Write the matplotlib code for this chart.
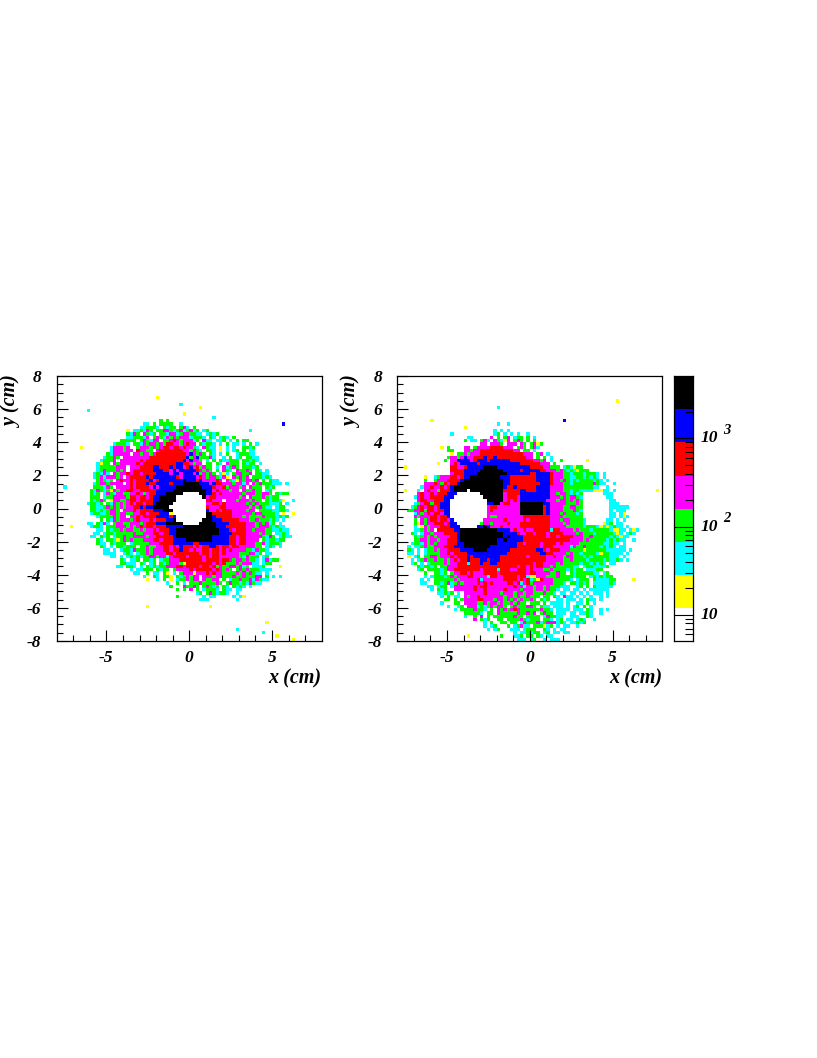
import numpy as np
import matplotlib
matplotlib.use('Agg')
import matplotlib.pyplot as plt
from matplotlib.colors import ListedColormap, BoundaryNorm
from matplotlib.ticker import FixedLocator, NullFormatter

plt.rcParams['font.family'] = ['Liberation Serif', 'DejaVu Serif']
plt.rcParams['axes.unicode_minus'] = False

# contour levels of the colour scale (counts per bin)
niveles = [5.1, 12, 28, 67, 160, 380, 900, 2130, 5100]
colores = ['#ffffff', '#ffff00', '#00ffff', '#00ff00', '#ff00ff', '#ff0000', '#0000ff', '#000000']
# a typical count for each letter used in the rows below
conteos = {'y': 18, 'c': 44, 'g': 100, 'm': 250, 'r': 600, 'b': 1400, 'k': 3300}

xticks = [-5, 0, 5]
yticks = [-8, -6, -4, -2, 0, 2, 4, 6, 8]

# (row from top, first column, cells)
izq_sueltos = [(6, 30, 'y'), (8, 37, 'c'), (9, 43, 'y'), (11, 38, 'y'), (10, 9, 'c'), (12, 47, 'c'), (14, 68, 'b'),
               (21, 7, 'y'), (33, 2, 'c'), (45, 4, 'y'), (41, 71, 'y'), (37, 71, 'c'), (57, 67, 'y'), (69, 27, 'y'),
               (69, 46, 'y'), (66, 56, 'y'), (67, 54, 'c'), (74, 63, 'y'), (76, 54, 'c'), (77, 62, 'c'), (78, 66, 'y'),
               (79, 71, 'y'), (16, 58, 'c')]
izq_filas = [
    (13, 31, 'g.g'),
    (14, 26, 'cc.g.gggg..c'),
    (15, 25, 'ccgggc.gcgg.gmc.g'),
    (16, 21, 'y.ccgcmg.ggmmgcgmcgmcg.cg'),
    (17, 21, 'gcmg.mgcg.ggcmmcgmmggcc.cgcg'),
    (18, 21, 'ccgggcm.gmgcmgmgmmmcgggc.gc.cgc.g'),
    (19, 19, 'ggggg.gmgcmm.ggmrmgmmmcg.mcc.ccg.c.g.gg'),
    (20, 17, 'cgggc.ggcmgmmgmgrrmmgmrmm.gcggc.c.g.cc.c.g.c'),
    (21, 16, 'cmmmgm..gmmmgmgmrrmrrmrmmgc.mgcc.y.c.c..ggcg'),
    (22, 16, 'cmmmgmm.rmmgg.mrrrrrrrmmgmgc.ggc.y.c.cg.g.cc'),
    (23, 15, 'gcmmmmm.mmgmmgmrrrrrrrrrmbmgmg.gc.c.g..cgggcc'),
    (24, 14, 'cggmg.mmmmmmmmrrrrrrrrrrrbgmbgggmc..c.g.cg.ggcc'),
    (25, 13, 'cgggm.mmmmmmrmrrrrrrrrrrrbmbmmg.c.g.gccggg.ggcgc'),
    (26, 12, 'cygg.mgmmmmmrmrrrrrrrrrrbbrrmgmm.gg.gc.mggg.gcgg.c'),
    (27, 12, 'cgggggmmm.mmmrrrrbbrrrbrbbmrbmrgmgg.c.mcgmg.gggcg'),
    (28, 12, 'cgmgggmgm.mrrrrrrbbbrrmbmbbbbbrmgmg.g.mgc.mggmg.gc.c'),
    (29, 11, 'cgcmc.mgmmrmrrmrrrrbbbbmbbmbbbmbgmgmg.cyc.gmmggm.ggcc'),
    (30, 11, 'cgmcmmmgm.mrrrrrbrbbbbbbbrmbbbbmrmgmmgcmy.mgmgm.gggcgc'),
    (31, 12, 'gmgcg.mrmmrmrrrrbmrbbbbbbbkbbbrbmmmmrm.mgcymgmmgm.g.gcc'),
    (32, 11, 'cgmmgmmmm.mrmrrrbrrbbbbrbbbkkkkkbbbmbrrmmmgmmcm.mgmgggccc.c'),
    (33, 11, 'gggcmg.mmmmrmrrrrmbmbbbbbkkkkkkkkbbbrmmrgmmmgm.mggg.gcg'),
    (34, 10, 'gcmgcgymgmmrrmmrrrrrbbbbbkkkkkkkkkkbbmrmmmgmm.mggmgg.cg'),
    (35, 10, 'gcg.cmgcmmggmmrmgmrrbbbkkkkk'),
    (35, 43, 'kkbbrmrmmmmmmgmmmggmmg.gcgg'),
    (36, 10, 'ggg.cggmmmmgrrmrrmrbbkkkkk'),
    (36, 44, 'kmrrmmmmmmmgm.mgggmgcgg'),
    (37, 10, 'gcgmg.ymmggmrrmrrrrbbkkkkk'),
    (37, 45, 'rrmmm.mmmgmmmgmgg.gcggcy'),
    (38, 9, 'cggcg.gcmgmgmrmrrmrrbkkkkk'),
    (38, 45, 'mmrrmrmmmmmmgmgmgggcccg.c'),
    (39, 10, 'ggccgmgmgmgmmrrbrbbkkkkk'),
    (39, 45, 'rmmmrrmmmmmmmgmgmgcc.cgg'),
    (40, 10, 'ggcgcgmmg.mmmrmrrrrbbbkkk'),
    (40, 45, 'bmmrmrrrmmmmgmm.ggggccggc'),
    (41, 10, 'cggccgmmgmmggmmrrmrrrbbby'),
    (41, 45, 'kkrrrrrrmmmmmmgmmggggc.y'),
    (42, 12, 'cggggmgmm.mmrmrrrrbbbbrb'),
    (42, 45, 'kkbrrrrrmmmgmggggmgggcgcg'),
    (43, 13, 'g.gcmgmmmgmrmmmrmrrrbbk'),
    (43, 44, 'kkkbbbrrrrrmmmggmgggcgc.c'),
    (44, 9, 'cc.gcmc.gmmggmmmgmrrrbbbkkkkk'),
    (44, 43, 'kkkkkbbbbrrrrrmmmgmgmcg.c'),
    (45, 10, 'cggc.gggmmmgmgmrmrrmrrrbbbbbkkkkkkkkkkbbbrrrrrrmmmgmmmgcgcc'),
    (46, 12, 'cc.gcggmgmmggmgmmrmrrrbbkkkkkkkkkkkkkbbbrmrrrmmgmmmggccgcc'),
    (47, 11, 'cc.cggcgggggmggmmmrrmrrbbkkkkkkkkkkkkkbbbbrrrrmmmmgmgg.ccgc'),
    (48, 10, 'cc.gcg.cggmggmmmmgmmrrrrrbkkkkkkkkkkkbbbbbrrmrrmmmmmgcmg.cgcc'),
    (49, 12, 'gc.ggcygmgmgggmmmrrmrrrbbbbkkkkkkkkbbbbbrrmrrmmmm.gcggcgg'),
    (50, 12, 'gcc.gcggg.cgggggmmmrrrrbbbbbbrrbbbbbbbbbrrmrrmmmggmcgggc'),
    (51, 13, 'gc.c.ggcggg.ggmggmmrrmrmbrrrmrmrrbbrmrrmrrmmmmmgg.cgc.c'),
    (52, 14, 'cc.c.cggcmgggmgmmmrrmrrbrrmrmmrrmrrmrmrmmmmggcmggc'),
    (53, 14, 'cccc..cgc.cggmgmmmmrrmrrrrrrrmrrmrrmrmmmmgggmmcg.cc'),
    (54, 16, 'cc.c.cgcgcggmmgmmcmrrrrmrrrrmrmrrmmmmmmgcmggg.cg'),
    (55, 19, 'gc.ccg.ggcg.cggmmmrrrrrrrmrrrrmrrmgmmgmggc.cmcgg'),
    (56, 19, 'ggccc.gc.cg.gcgmmmgyrrrrrrrrmrmrgggmgmmmcc.cgg'),
    (57, 18, 'cc.ggc.c.gcgcggmmmrrmrrrrmrrmrgmggmmgmcg.cccg'),
    (58, 22, 'c.ccggg.gcgg.gmmmmrmrrrrrmrmgmg.gmgmgggcccc'),
    (59, 23, 'cc..g.cc.gy.c.gmmmymmmrmrmmggggmgmgmgcc.c'),
    (60, 26, 'c..gc.ggy.gcgmgmm.mmmgmmgggmggmgggmm.g.c.c'),
    (61, 27, 'y..c.g.y.cggmgmm.mggmm.g.cggmggmcmgcc'),
    (62, 33, 'c..g.c.gggmggggmg.gmggcgcmgcc'),
    (63, 34, 'g...mggmg.gmgcg.gc.gcgc.c'),
    (64, 36, 'g.g.m.g.cgggc.gcc.cc'),
    (65, 42, 'cg.gmgcggc..c'),
    (66, 36, 'g.......c.cc.....c.c'),
    (67, 43, 'ccc'),
]

# same for the right picture
der_sueltos = [(9, 30, 'c'), (13, 10, 'y'), (13, 50, 'b'), (7, 66, 'y'), (14, 30, 'c'), (14, 33, 'c'), (15, 20, 'y'),
               (17, 16, 'c'), (21, 13, 'y'), (27, 2, 'y'), (26, 12, 'y'), (25, 57, 'y'), (34, 2, 'y'), (34, 78, 'y'),
               (61, 71, 'y'), (78, 21, 'y'), (23, 16, 'y')]
der_filas = [
    (16, 29, 'c.c.c'),
    (17, 29, 'cg.c.c.c..c'),
    (18, 21, 'cc.....m.g.gm.cgg.g.c'),
    (19, 20, 'g.cc.gmc.mgcym.gmg.g.g'),
    (20, 25, 'mm.mmmg.mmm.mg.gmyg'),
    (21, 15, 'g....mm.gmmmmrrrrmmm.gmg.gmc'),
    (22, 15, 'gg...mmgmmrrrrrrrrrrmm.gg.c'),
    (23, 16, 'g.ggmgmmmrrrrrrrrrrrrrmmm.gm.c'),
    (24, 15, 'gmmgmbmmrrrbrrbrrrrrrrrrmm.g.g.c'),
    (25, 14, 'g.mmbbbbmrbbbrbbbbbbrrrrrrrmmgm.c..g'),
    (26, 16, 'mrmbbbbbrbbbbbbbbbbbbrrrrrrmmm.g'),
    (27, 16, 'rrmmrbbbbbkkkkbbbbbbbbbbrrrrmmggg.cgcygg'),
    (28, 16, 'rrrrbbbbbkkkkkkkbbbbbrbbbbbrrmmmgmgcgcyggg'),
    (29, 16, 'mrrrbbbbkkkkkkkkkbbbbbbbrrbbbbrmmmggcgggcgggc.c'),
    (30, 8, 'y..cgmmmrrmrbbkkkkkkkkkbbbrrrrrrrrbbbbrmmmggccggcgcgc.c'),
    (31, 8, 'g..gmmmrrrrbkkkkkkkkkkkkbbrrrrrrrrbbbbrmmgmgcgcggggcgc.c'),
    (32, 8, 'mmmrmgrmrrbkkkkkkkkkkkkkbbrrrrrrrrrbbbrmmmggcggggggmgcc..c'),
    (33, 7, 'cmmrmmrmrbkkkkkkkkkkkkkkkbrrbrrrrrrbbbbmmmmgggggggggcc..c'),
    (34, 6, 'c.mrmmgrrrbkkkk.kkkkkkkkkkrrrrrbbrrrbbbbmmmmggcggccccyyycc.c'),
    (35, 6, 'mrmmrmrrrbbb'),
    (35, 25, 'kkkkkkkmrrrrbbbbbbbbbmmgmmgcgcg'),
    (35, 62, 'ccc'),
    (36, 5, 'cmrmmrrrrbbb'),
    (36, 26, 'kkkkkkmrrrmbbbbbbbbbmmmgmgmmgc'),
    (36, 63, 'cc'),
    (37, 6, 'mrrmmrrrbb'),
    (37, 27, 'kkkkkmrmrmbbbbbbbbmmmgmmgmgmg'),
    (37, 64, 'cc.'),
    (38, 5, 'cgmrrgrrbbb'),
    (38, 27, 'bbkkmrrmmmkkkkkkkbbmmmmmgggmg'),
    (38, 64, 'ccc'),
    (39, 4, 'cgmrmrrmrbbb'),
    (39, 27, 'mrrmmmmmmmkkkkkkkrbmmmmggmmgg'),
    (39, 64, 'cccccc'),
    (40, 3, 'ggmmrgrrmrrbb'),
    (40, 27, 'mrmmmmmmmmkkkkkkkrbmmmmgggmgc'),
    (40, 64, 'c.ccc'),
    (41, 5, 'cmgmrmrrmbb'),
    (41, 27, 'mmmmmmmmmmkkkkkkkrbmmmgmgggcg'),
    (41, 64, 'cc.cy'),
    (42, 5, 'mgmmmrrmrrb'),
    (42, 27, 'mggmmmmmmmmrrrrrrrrmmmmgggggg'),
    (42, 64, 'cc.cyc'),
    (43, 5, 'g.mgmrrmrrmb'),
    (43, 26, 'mmmmmmrmmmmmrmrrrrrrmmmgmmggggc'),
    (43, 63, 'cc.c.c'),
    (44, 5, 'gymgmmrrrmrbb'),
    (44, 25, 'gmmgmmmmrmmmrrrrrrrrrmmmmgmggggc'),
    (44, 62, 'ycg.cc'),
    (45, 5, 'c.ymgmmmrrrbbb'),
    (45, 24, 'bbkbmmmrmmmmmrrrrrrrrrmmmmmgggggcgggcycycgcc.c'),
    (46, 5, 'ccgmgm.rrrrrbbkkkkkkkkkkkbbbbmrmmrmmrrrrrcrrmmmmgmgggcgggggcyycc.cyc'),
    (47, 4, 'gc.cmmgmmmrrrrbkkkkkkkkkkkkkbbbbrmmrrmrrrmrrrrmmmmgmgggcgggggcyc.cgc'),
    (48, 5, 'gcgmgmgmmmmrrbkkkkkkkkkkkkkbkbbbbrrrrrrrmrrmrrrrmmmggmgggggcgcycc'),
    (49, 5, 'ggmmgmmgmmrrrbkkkkkkkkkkkbbkbbbbbrrrrrrrrrrrrrrmmmmgmgggggcgcgcc..c'),
    (50, 4, 'cggcmgmgmmmrrrbbkkkkkkkkkkbbbbbbrrmrrrrmrrrrmrmmmmmgggggggccgcc.c'),
    (51, 3, 'c.ccgmggmmmrrrbbbkkkkkkkkbbbbbbbbrrrrrrrmrrrmmmmmcmggmggggcgcgc.cc'),
    (52, 3, 'gc.c.cggmgmmrrrrbbbbkkkkbbbbbbbrrrrrrrrbbrmrrrmmmggggyggggggcccccc.c'),
    (53, 3, 'cc.c.cggggmmrmrrrrbbbbbbbbbbbbrrrrrrrrrrbbrrmmmmgmggcggggcyggcccc.c'),
    (54, 3, 'y.cg.ggmmgmmmrmrrrbrbbbbbbbbrrrrrrrrmrrrrrmmrmmgmmgggcgcgggggccc.c'),
    (55, 4, 'c.cgmggmggmgmrmrrbrrrbbrbbbrrrrrrrrrrrrrrmmmmmggmggggcggggcgccgc.c'),
    (56, 4, 'cg.c.cggggmgmmrrrcrrrbrrbbrrrrrrrrrrrmrrmmmmgmgggggcggcgcgc.cc'),
    (57, 6, 'gcggcg.ggmmmrrrrrrrrrrrrrrrrrrmrrmrmrrmmgmgggggcc.cggccccg'),
    (58, 6, 'cg.ggggcgmmrrrrrrrrmrrrrcrrrmmrrrmrmmmggmggggcgcgg.cccgg'),
    (59, 8, 'g..ggcg.gmmrrmrmmmrrrrmrrrrrrrrmrrmmmmggmgg.gcgggggcc.cg'),
    (60, 8, 'c.cgggcgmgmmmrrmmmmcrrmmrrrrmrrcyymmmgggmggggcggg.cgcgcgg'),
    (61, 7, 'c.c.ggggggmgmmmmmrcmmmmmmrrrrmrmrcgyrmmmgggggc.cggg.gccccgg'),
    (62, 7, 'cc..ggcgmcgmgmmmmrmrmrmmmmrrmrcmrgmmmmmmgggc.ggcgcg.cccccgc'),
    (63, 9, 'cc.cgg.cmmmmmmrmrrmmmmmmmmrmmcmmgmmgmgggccc..cg.g.gccccc'),
    (64, 10, 'c.gcg..mmmmmmrmmrmmmmmrmmmmgmmmgmmgmggc.cc.cc.c.cccccc'),
    (65, 12, 'ccgcg.c.mmmmmmrmmmmgmmmgmmgmmgggmggc.cc.cc.c.c.ccc.c'),
    (66, 13, 'c.g.cc.mgmmrmmmmmmmgmmgmggmggg.gg.gc.mcc.c.c.c..c.c'),
    (67, 14, 'gg.g.gmmmmrrmmmgmmgmgmgmggmg.gcg..cc.ccc.c.gcc.c'),
    (68, 13, 'c...gg.mmmmggmgmmgmggmgmgg.ggg.g.cccc.c..cc.g.c'),
    (69, 15, 'c..cg.mmmcgcgmgmmg.gmgggmmg.gcc.ccc.c.cg.g.c'),
    (70, 17, 'c.ggggmggc.g.mgmgmrmggggggmggc.cccc.ccc.gc..c.c'),
    (71, 20, 'gggggc.gg.mgggggmggmgm.gmgg.ccc.cc.ccgc..c'),
    (72, 20, 'c..g.m.g.ggggggmgg.gggg.cmggcc..ccc..gc'),
    (73, 23, 'm.gcg..gg.ggggmgcggg.ggc.cg.cc.cgc..c'),
    (74, 26, 'c.g..gg.gg.cmgggmcgmmmcgc.ccgcg'),
    (75, 26, 'c.cg...g.cgmcc.gggycg.c.cc..c'),
    (76, 27, 'c.cg...ccc.cggg..gc.c.cc'),
    (77, 35, 'c.ccgcgg.cg.cc.cc'),
    (78, 31, 'g...ccg.gg.gc.cc'),
    (79, 36, 'ccc.cg..c.ccc'),
]


def armar_matriz(filas, sueltos):
    # fill the 80x80 histogram from the rows, row 0 is the top of the picture
    z = np.full((80, 80), np.nan)
    for fila, col, celdas in filas + sueltos:
        for k, letra in enumerate(celdas):
            if letra != '.' and col + k < 80:
                z[fila, col + k] = conteos[letra]
    return z[::-1]


def panel(pos, z):
    ax = fig.add_axes(pos)
    bordes = np.linspace(-8, 8, 81)
    ax.pcolormesh(bordes, bordes, np.ma.masked_invalid(z), cmap=cmap, norm=norm, antialiased=False)
    ax.set_xlim(-8, 8)
    ax.set_ylim(-8, 8)
    ax.set_xticks(xticks)
    ax.set_yticks(yticks)
    ax.set_xticks(np.arange(-7, 8, 1), minor=True)
    ax.set_yticks(np.arange(-7.5, 8, 0.5), minor=True)
    ax.tick_params(which='major', direction='in', length=8, width=0.8, top=False, right=False)
    ax.tick_params(which='minor', direction='in', length=4, width=0.8, top=False, right=False)
    ax.tick_params(axis='x', which='major', pad=6.5)
    ax.tick_params(axis='y', which='major', pad=11)
    for t in ax.get_xticklabels() + ax.get_yticklabels():
        t.set_fontsize(fs)
        t.set_fontweight('bold')
        t.set_fontstyle('italic')
    for s in ax.spines.values():
        s.set_linewidth(0.9)
    ax.text(1.0, -0.143, 'x (cm)', transform=ax.transAxes, ha='right', va='center', fontsize=14.5,
            fontweight='bold', fontstyle='italic')
    ax.text(-0.17, 1.0, 'y (cm)', transform=ax.transAxes, ha='center', va='top', rotation=90, fontsize=14.5,
            fontweight='bold', fontstyle='italic')
    return ax


W, H = 817, 1058
fs = 12.5
fig = plt.figure(figsize=(W / 100, H / 100), dpi=100)
cmap = ListedColormap(colores)
norm = BoundaryNorm(niveles, cmap.N)


def caja(x0, x1, y0, y1):
    return [x0 / W, 1 - y1 / H, (x1 - x0) / W, (y1 - y0) / H]


panel(caja(56.7, 321.7, 376, 641), armar_matriz(izq_filas, izq_sueltos))
panel(caja(397.3, 662.3, 376, 641), armar_matriz(der_filas, der_sueltos))

# colour scale
cax = fig.add_axes(caja(674, 692.7, 376, 640.7))
cax.pcolormesh([0, 1], niveles, np.array(niveles[:-1])[:, None] * 1.1, cmap=cmap, norm=norm)
cax.set_yscale('log')
cax.set_ylim(niveles[0], niveles[-1])
cax.set_xticks([])
cax.yaxis.set_ticks_position('right')
cax.yaxis.set_major_locator(FixedLocator([10, 100, 1000]))
menores = [m * d for d in [1, 10, 100, 1000] for m in range(2, 10)]
cax.yaxis.set_minor_locator(FixedLocator([v for v in menores if niveles[0] < v < niveles[-1]]))
cax.yaxis.set_minor_formatter(NullFormatter())
cax.tick_params(axis='y', which='major', direction='in', length=13.5, width=0.8, labelright=False)
cax.tick_params(axis='y', which='minor', direction='in', length=6, width=0.8)
for s in cax.spines.values():
    s.set_linewidth(0.9)
marca = cax.get_yaxis_transform()
for valor, exponente in [(10, ''), (100, '2'), (1000, '3')]:
    cax.text(1.43, valor, '10', transform=marca, ha='left', va='center', fontsize=fs,
             fontweight='bold', fontstyle='italic')
    if exponente:
        cax.text(2.65, valor * 1.05, exponente, transform=marca, ha='left', va='bottom', fontsize=fs - 2,
                 fontweight='bold', fontstyle='italic')

fig.savefig('out.png', dpi=100)
